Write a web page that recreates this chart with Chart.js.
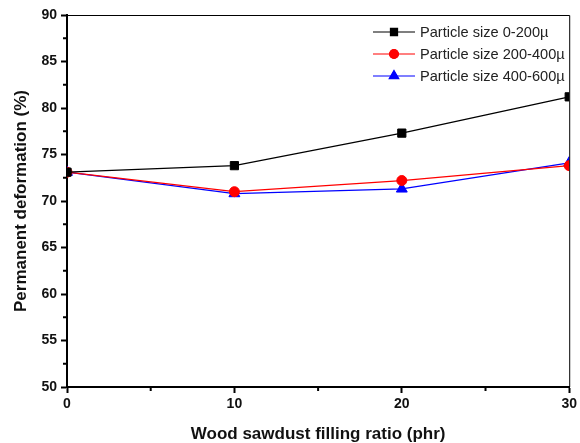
<!DOCTYPE html>
<html>
<head>
<meta charset="utf-8">
<script src="https://cdn.jsdelivr.net/npm/chart.js@4.4.0/dist/chart.umd.min.js"></script>
<style>
  html, body { margin: 0; padding: 0; background: #fff; }
  #wrap { width: 580px; height: 443px; }
</style>
</head>
<body>
<div id="wrap"><canvas id="c"></canvas></div>
<script>
// ---- data ----
const fillRatio = [0, 10, 20, 30];
const size0to200 = [73.1, 73.8, 77.3, 81.2];
const size200to400 = [73.1, 71.0, 72.2, 73.8];
const size400to600 = [73.1, 70.8, 71.3, 74.1];
const seriesNames = ['Particle size 0-200\u00b5', 'Particle size 200-400\u00b5', 'Particle size 400-600\u00b5'];
const xTicks = [0, 10, 20, 30];
const yTicks = [50, 55, 60, 65, 70, 75, 80, 85, 90];

const colors = ['#000000', '#ff0000', '#0000ff'];
const styles = ['rect', 'circle', 'triangle'];
const radii = [5.8, 5, 6.3];
const legendRadii = [5, 4.5, 5.5];

function pts(vals) {
  return fillRatio.map((x, i) => ({ x: x, y: vals[i] }));
}

// frame, minor ticks and legend
const extras = {
  id: 'extras',
  afterDraw(chart) {
    const ctx = chart.ctx;
    const a = chart.chartArea;
    const xs = chart.scales.x, ys = chart.scales.y;
    ctx.save();
    ctx.strokeStyle = '#000';
    ctx.lineWidth = 1;
    ctx.beginPath();
    ctx.moveTo(a.left, a.top + 0.5);
    ctx.lineTo(a.right + 0.5, a.top + 0.5);
    ctx.lineTo(a.right + 0.5, a.bottom);
    ctx.stroke();

    // minor ticks
    ctx.lineWidth = 2;
    ctx.beginPath();
    for (let v = 5; v < 30; v += 10) {
      const px = xs.getPixelForValue(v);
      ctx.moveTo(px, a.bottom);
      ctx.lineTo(px, a.bottom + 4);
    }
    for (let v = 52.5; v < 90; v += 5) {
      const py = ys.getPixelForValue(v);
      ctx.moveTo(a.left, py);
      ctx.lineTo(a.left - 4, py);
    }
    ctx.stroke();

    // legend
    ctx.font = '14.6px "Liberation Sans", Arial, sans-serif';
    ctx.textBaseline = 'middle';
    for (let i = 0; i < 3; i++) {
      const y = 32 + i * 22;
      ctx.strokeStyle = colors[i];
      ctx.lineWidth = 1.2;
      ctx.beginPath();
      ctx.moveTo(373, y);
      ctx.lineTo(415, y);
      ctx.stroke();
      Chart.helpers.drawPoint(ctx, {
        pointStyle: styles[i], radius: legendRadii[i], borderWidth: 1, rotation: 0
      }, 394, y);
      ctx.fillStyle = colors[i];
      ctx.fill();
      ctx.fillStyle = '#222';
      ctx.fillText(seriesNames[i], 420, y + 1);
    }
    ctx.restore();
  }
};

const ds = [size0to200, size200to400, size400to600].map((vals, i) => ({
  label: seriesNames[i],
  data: pts(vals),
  borderColor: colors[i],
  backgroundColor: colors[i],
  borderWidth: 1.3,
  pointStyle: styles[i],
  pointRadius: radii[i],
  pointBorderWidth: 1,
  tension: 0
}));

const tickFont = { family: '"Liberation Sans", Arial', size: 14, weight: 'bold' };
const titleFont = { family: '"Liberation Sans", Arial', size: 17, weight: 'bold' };

new Chart(document.getElementById('c'), {
  type: 'line',
  data: { datasets: ds },
  options: {
    responsive: true,
    maintainAspectRatio: false,
    animation: false,
    layout: { padding: { left: 0, top: 15, right: 8, bottom: 0 } },
    plugins: { legend: { display: false }, tooltip: { enabled: false } },
    scales: {
      x: {
        type: 'linear', min: 0, max: 30,
        afterBuildTicks: s => { s.ticks = xTicks.map(v => ({ value: v })); },
        afterFit: s => { s.height = 56; },
        grid: { drawOnChartArea: false, drawTicks: true, tickLength: 6, tickWidth: 2, color: '#000' },
        border: { color: '#000', width: 2 },
        ticks: { color: '#111', padding: 3, font: tickFont },
        title: {
          display: true, text: 'Wood sawdust filling ratio (phr)', color: '#111',
          padding: { top: 10, bottom: -2 },
          font: titleFont
        }
      },
      y: {
        min: 50, max: 90,
        afterBuildTicks: s => { s.ticks = yTicks.map(v => ({ value: v })); },
        afterFit: s => { s.width = 67; },
        grid: { drawOnChartArea: false, drawTicks: true, tickLength: 6, tickWidth: 2, color: '#000' },
        border: { color: '#000', width: 2 },
        ticks: { color: '#111', padding: 4, font: tickFont },
        title: {
          display: true, text: 'Permanent deformation (%)', color: '#111',
          padding: { top: 11, bottom: 0 },
          font: titleFont
        }
      }
    }
  },
  plugins: [extras]
});
</script>
</body>
</html>
